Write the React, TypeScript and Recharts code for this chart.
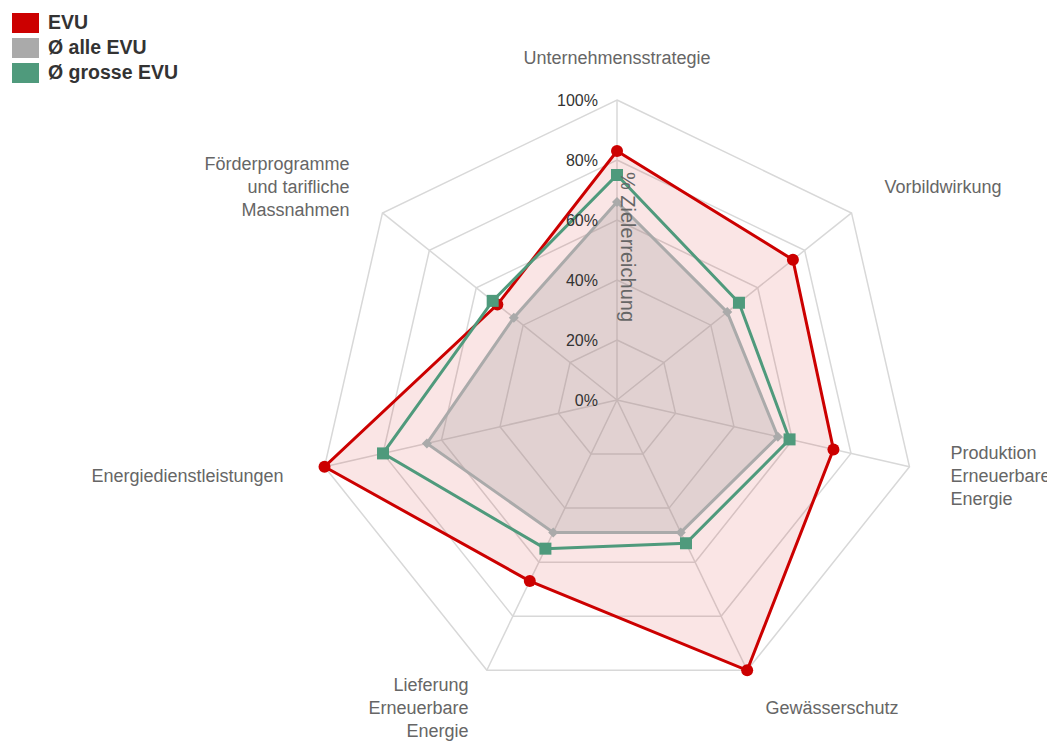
import React from "react";
import {
  RadarChart,
  Radar,
  PolarGrid,
  PolarAngleAxis,
  PolarRadiusAxis,
} from "recharts";

const categories = [
  "Unternehmensstrategie",
  "Vorbildwirkung",
  "Produktion\nErneuerbare\nEnergie",
  "Gewässerschutz",
  "Lieferung\nErneuerbare\nEnergie",
  "Energiedienstleistungen",
  "Förderprogramme\nund tarifliche\nMassnahmen",
];

const evu = [83, 75, 74, 100, 67, 100, 51];
const alleEvu = [66, 47, 55, 49, 49, 65, 44];
const grosseEvu = [75, 52, 59, 53, 55, 80, 53];

const radiusTicks = [0, 20, 40, 60, 80, 100];

const COLORS = {
  evu: "#cc0000",
  alle: "#aaaaaa",
  grosse: "#4f9a7c",
  grid: "#d8d8d8",
  label: "#666666",
  tick: "#333333",
};

const WIDTH = 1047;
const HEIGHT = 734;
const CX = 609;
const CY = 392;
const R = 300;
const LABEL_R = 342;
const FONT = "'Liberation Sans', Arial, sans-serif";

const data = categories.map((name, i) => ({
  name,
  evu: evu[i],
  alle: alleEvu[i],
  grosse: grosseEvu[i],
}));

const AngleTick = ({ payload }: any) => {
  const angle = payload.coordinate; // degrees, 90 = top
  const rad = (-angle * Math.PI) / 180;
  const x = CX + Math.cos(rad) * LABEL_R;
  const y = CY + Math.sin(rad) * LABEL_R;
  const dx = x - CX;
  const anchor = Math.abs(dx) < 5 ? "middle" : dx > 0 ? "start" : "end";
  const lines = String(payload.value).split("\n");
  const lh = 23;
  const y0 = y - ((lines.length - 1) * lh) / 2;
  return (
    <text
      x={x}
      y={y0}
      textAnchor={anchor}
      fill={COLORS.label}
      fontSize={18}
      fontFamily={FONT}
    >
      {lines.map((l, i) => (
        <tspan key={i} x={x} y={y0 + i * lh} dy={6}>
          {l}
        </tspan>
      ))}
    </text>
  );
};

const RadiusTick = ({ x, y, payload }: any) => (
  <text
    x={x - 19}
    y={y}
    dy={6}
    textAnchor="end"
    fill={COLORS.tick}
    fontSize={16}
    fontFamily={FONT}
  >
    {payload.value}%
  </text>
);

const CircleDot = ({ cx, cy }: any) => (
  <circle cx={cx} cy={cy} r={6} fill={COLORS.evu} stroke="none" />
);

const DiamondDot = ({ cx, cy }: any) => (
  <path
    d={`M${cx},${cy - 5} L${cx + 5},${cy} L${cx},${cy + 5} L${cx - 5},${cy} Z`}
    fill={COLORS.alle}
  />
);

const SquareDot = ({ cx, cy }: any) => (
  <rect x={cx - 6} y={cy - 6} width={12} height={12} fill={COLORS.grosse} />
);

const legendItems = [
  { label: "EVU", color: COLORS.evu },
  { label: "Ø alle EVU", color: COLORS.alle },
  { label: "Ø grosse EVU", color: COLORS.grosse },
];

export default function App() {
  return (
    <div style={{ position: "relative", width: WIDTH, height: HEIGHT }}>
      <RadarChart
        width={WIDTH}
        height={HEIGHT}
        data={data}
        cx={CX}
        cy={CY}
        outerRadius={R}
        margin={{ top: 0, right: 0, bottom: 0, left: 0 }}
      >
        <PolarGrid
          gridType="polygon"
          stroke={COLORS.grid}
          strokeWidth={1.5}
          polarRadius={[60, 120, 180, 240, 300]}
        />
        <PolarAngleAxis dataKey="name" tick={<AngleTick />} tickLine={false} axisLine={false} />
        <PolarRadiusAxis
          angle={90}
          domain={[0, 100]}
          ticks={radiusTicks as any}
          tick={<RadiusTick />}
          axisLine={false}
          tickLine={false}
        />
        <Radar
          name="EVU"
          dataKey="evu"
          stroke={COLORS.evu}
          strokeWidth={3}
          fill={COLORS.evu}
          fillOpacity={0.1}
          dot={<CircleDot />}
          isAnimationActive={false}
        />
        <Radar
          name="Ø alle EVU"
          dataKey="alle"
          stroke={COLORS.alle}
          strokeWidth={3}
          fill="#999999"
          fillOpacity={0.25}
          dot={<DiamondDot />}
          isAnimationActive={false}
        />
        <Radar
          name="Ø grosse EVU"
          dataKey="grosse"
          stroke={COLORS.grosse}
          strokeWidth={3}
          fill="none"
          fillOpacity={0}
          dot={<SquareDot />}
          isAnimationActive={false}
        />
      </RadarChart>

      <div
        style={{
          position: "absolute",
          left: CX + 10,
          top: 239,
          transform: "translate(-50%, -50%) rotate(90deg)",
          whiteSpace: "nowrap",
          fontFamily: FONT,
          fontSize: 20,
          color: COLORS.label,
        }}
      >
        % Zielerreichung
      </div>

      <div
        style={{
          position: "absolute",
          left: 4,
          top: 2,
          fontFamily: FONT,
          fontWeight: "bold",
          fontSize: 19.5,
          color: "#333333",
        }}
      >
        {legendItems.map((it) => (
          <div key={it.label} style={{ display: "flex", alignItems: "center", height: 25 }}>
            <span
              style={{
                display: "inline-block",
                width: 27,
                height: 20,
                background: it.color,
                marginRight: 9,
              }}
            />
            {it.label}
          </div>
        ))}
      </div>
    </div>
  );
}
